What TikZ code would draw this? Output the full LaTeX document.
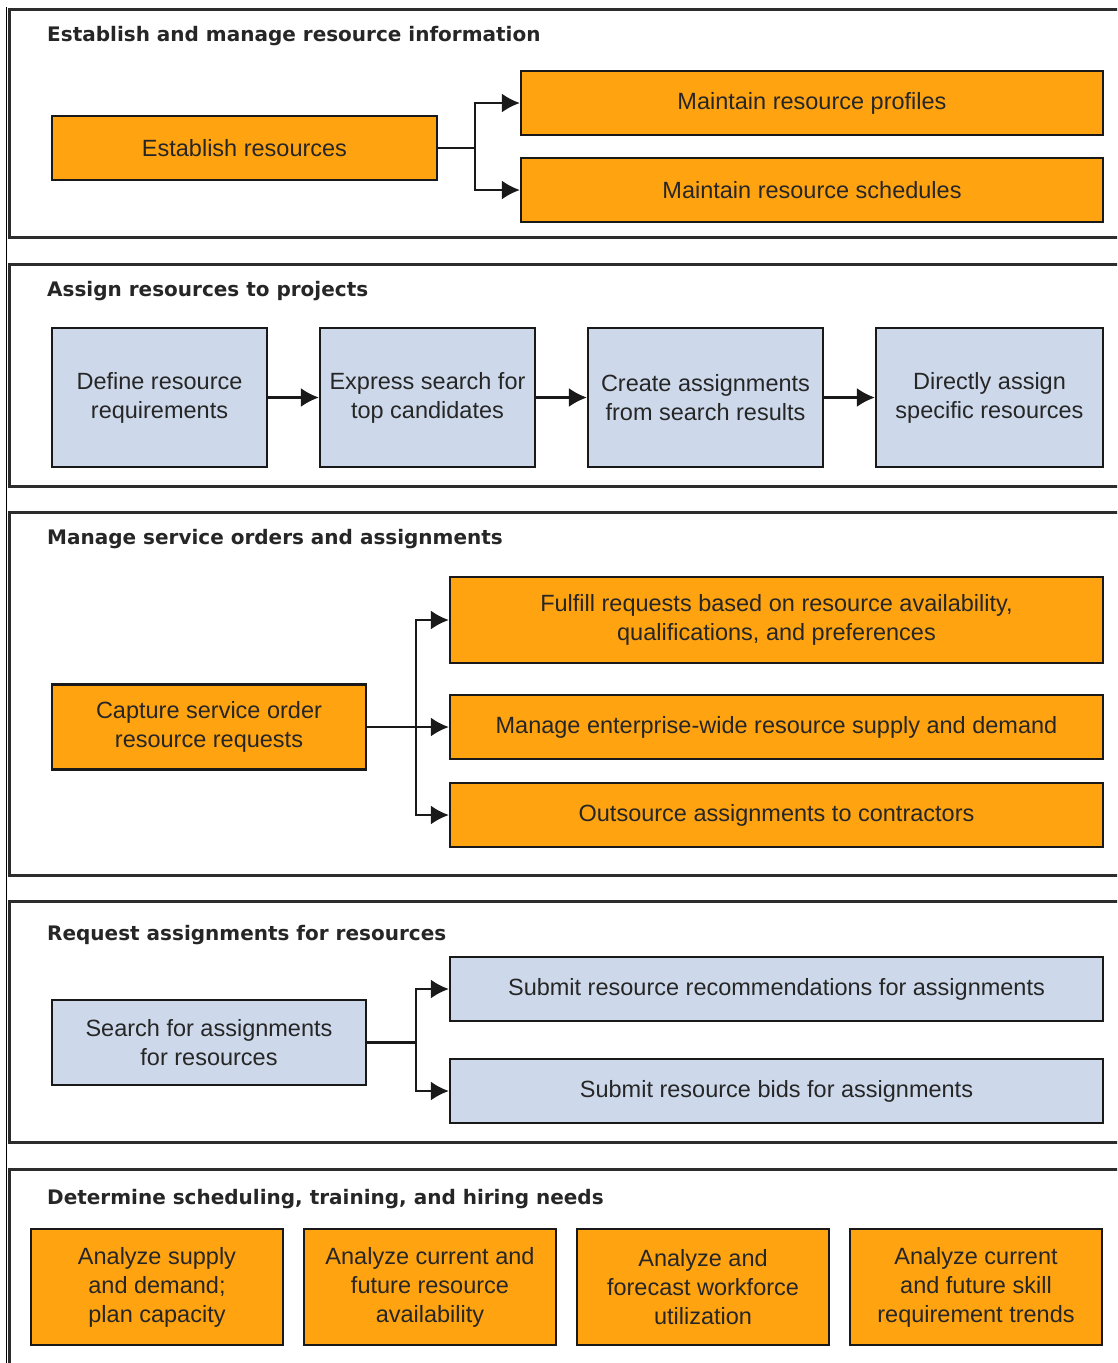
\documentclass[tikz,border=0pt]{standalone}
\usepackage{fontspec}
\setmainfont{Liberation Sans}
\newfontfamily\headfont{DejaVu Sans}
\usetikzlibrary{arrows.meta,positioning}

\definecolor{boxorange}{RGB}{255,163,17}
\definecolor{boxblue}{RGB}{205,217,234}
\definecolor{framegray}{RGB}{45,45,45}

\begin{document}
\begin{tikzpicture}[x=1pt,y=-1pt,
	panel/.style={draw=framegray, line width=3pt},
	heading/.style={anchor=west, inner sep=0pt, text=black!85, font=\headfont\bfseries\fontsize{20}{24}\selectfont},
	task/.style={draw=black!90, line width=2.3pt, align=center, inner sep=0pt, text=black!85, font=\fontsize{23.5}{29}\selectfont},
	orangebox/.style={task, fill=boxorange},
	bluebox/.style={task, fill=boxblue},
	link/.style={line width=2.2pt, draw=black!90},
	arr/.style={link, -{Latex[length=18pt,width=19pt]}}
]
	\clip (0,0) rectangle (1117,1363);

	% Frames
	\draw[line width=1pt] (6.5,7) -- (6.5,1370);
	\draw[panel] (9,9) rectangle (1135,237);
	\draw[panel] (9,264) rectangle (1135,486);
	\draw[panel] (9,512) rectangle (1135,875);
	\draw[panel] (9,901) rectangle (1135,1142);
	\draw[panel] (9,1169) rectangle (1135,1390);

	%Establish and manage resource information
	\node[heading] (h1) at (47,36.5) {Establish and manage resource information};
	\node[orangebox, minimum width=385pt, minimum height=64pt] (est) at (244.5,148) {Establish resources};
	\node[orangebox, minimum width=582pt, minimum height=64pt] (prof) at (812,103) {Maintain resource profiles};
	\node[orangebox, minimum width=582pt, minimum height=64pt] (sched) at (812,190) {Maintain resource schedules};
	\coordinate (m1) at (475,148);
	\draw[link] (est) -- (m1);
	\draw[arr] (m1) |- (prof);
	\draw[arr] (m1) |- (sched);

	%Assign resources to projects
	\node[heading] (h2) at (47,291.5) {Assign resources to projects};
	\node[bluebox, minimum width=215pt, minimum height=139pt] (def) at (159.5,397.5) {Define resource\\requirements};
	\node[bluebox, minimum width=215pt, minimum height=139pt] (expr) at (427.5,397.5) {Express search for\\top candidates};
	\node[bluebox, minimum width=235pt, minimum height=139pt] (crt) at (705.5,397.5) {Create assignments\\from search results};
	\node[bluebox, minimum width=227pt, minimum height=139pt] (dir) at (989.5,397.5) {Directly assign\\specific resources};
	\draw[arr] (def) -- (expr);
	\draw[arr] (expr) -- (crt);
	\draw[arr] (crt) -- (dir);

	%Manage service orders and assignments
	\node[heading] (h3) at (47,539.5) {Manage service orders and assignments};
	\node[orangebox, minimum width=314pt, minimum height=85pt] (cap) at (209,727) {Capture service order\\resource requests};
	\node[orangebox, minimum width=653pt, minimum height=86pt] (ful) at (776.5,620) {Fulfill requests based on resource availability,\\qualifications, and preferences};
	\node[orangebox, minimum width=653pt, minimum height=64pt] (ent) at (776.5,727) {Manage enterprise-wide resource supply and demand};
	\node[orangebox, minimum width=653pt, minimum height=64pt] (outs) at (776.5,815) {Outsource assignments to contractors};
	\coordinate (m3) at (416,727);
	\draw[link] (cap) -- (m3);
	\draw[arr] (m3) |- (ful);
	\draw[arr] (m3) -- (ent);
	\draw[arr] (m3) |- (outs);

	%Request assignments for resources
	\node[heading] (h4) at (47,935.5) {Request assignments for resources};
	\node[bluebox, minimum width=314pt, minimum height=85pt] (srch) at (209,1042.5) {Search for assignments\\for resources};
	\node[bluebox, minimum width=653pt, minimum height=64pt] (rec) at (776.5,989) {Submit resource recommendations for assignments};
	\node[bluebox, minimum width=653pt, minimum height=64pt] (bid) at (776.5,1091) {Submit resource bids for assignments};
	\coordinate (m4) at (416,1042.5);
	\draw[link] (srch) -- (m4);
	\draw[arr] (m4) |- (rec);
	\draw[arr] (m4) |- (bid);

	%Determine scheduling, training, and hiring needs
	\node[heading] (h5) at (47,1199.5) {Determine scheduling, training, and hiring needs};
	\node[orangebox, minimum width=252pt, minimum height=116pt] (sup) at (157,1287) {Analyze supply\\and demand;\\plan capacity};
	\node[orangebox, minimum width=252pt, minimum height=116pt] (avl) at (430,1287) {Analyze current and\\future resource\\availability};
	\node[orangebox, minimum width=252pt, minimum height=116pt] (util) at (703,1287) {Analyze and\\forecast workforce\\utilization};
	\node[orangebox, minimum width=252pt, minimum height=116pt] (skill) at (976,1287) {Analyze current\\and future skill\\requirement trends};

\end{tikzpicture}
\end{document}
